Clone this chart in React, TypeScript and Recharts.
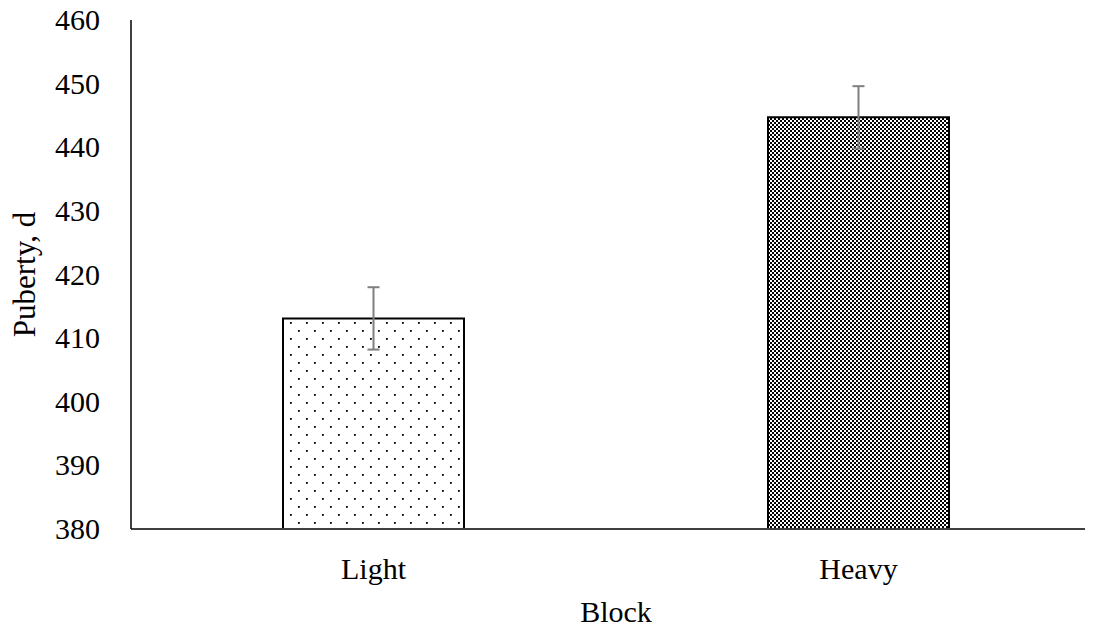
import { Bar, BarChart, Cell, ErrorBar, Label, XAxis, YAxis } from "recharts";

const blocks = ["Light", "Heavy"];
const puberty = [413.1, 444.7];
const errors = [4.9, 4.9];
const yTicks = [380, 390, 400, 410, 420, 430, 440, 450, 460];

const data = blocks.map((block, i) => ({
  block,
  value: puberty[i],
  err: errors[i],
}));

const fills = ["url(#dots)", "url(#checker)"];
const font = "'Liberation Serif', 'Times New Roman', serif";
const textStyle = { fill: "#000", fontSize: 30, fontFamily: font };

const XTick = (props: any) => {
  const { x, y, payload } = props;
  return (
    <text x={x} y={y + 48} textAnchor="middle" style={textStyle}>
      {payload.value}
    </text>
  );
};

const YTick = (props: any) => {
  const { x, y, payload } = props;
  return (
    <text x={x - 29} y={y + 10} textAnchor="end" style={textStyle}>
      {payload.value}
    </text>
  );
};

export default function App() {
  return (
    <div style={{ margin: -8, width: 1110, height: 630, fontFamily: font }}>
      <style>{`html, body { overflow: hidden; }`}</style>
      <BarChart
        width={1110}
        height={630}
        data={data}
        margin={{ top: 20, right: 9, bottom: 0, left: 0 }}
        barCategoryGap={152}
        style={{ fontFamily: font }}
      >
        <defs>
          <pattern id="dots" width={16} height={16} patternUnits="userSpaceOnUse">
            <rect width={16} height={16} fill="#fff" />
            <rect x={2} y={2} width={1.8} height={1.8} fill="#000" />
            <rect x={10} y={10} width={1.8} height={1.8} fill="#000" />
          </pattern>
          <pattern id="checker" width={4} height={4} patternUnits="userSpaceOnUse">
            <rect width={4} height={4} fill="#fff" />
            <rect x={0} y={0} width={2} height={2} fill="#000" />
            <rect x={2} y={2} width={2} height={2} fill="#000" />
          </pattern>
        </defs>
        <XAxis
          dataKey="block"
          height={101}
          tickLine={false}
          tickSize={0}
          axisLine={{ stroke: "#404040", strokeWidth: 2 }}
          tick={<XTick />}
        >
          <Label value="Block" position="insideBottom" offset={8} style={textStyle} />
        </XAxis>
        <YAxis
          width={131}
          domain={[380, 460]}
          ticks={yTicks}
          interval={0}
          allowDataOverflow
          tickLine={false}
          tickSize={0}
          axisLine={{ stroke: "#000", strokeWidth: 1.5 }}
          tick={<YTick />}
        >
          <Label
            value="Puberty, d"
            angle={-90}
            position="insideLeft"
            offset={24}
            style={{ ...textStyle, fontSize: 31, textAnchor: "middle" }}
          />
        </YAxis>
        <Bar dataKey="value" stroke="#000" strokeWidth={2} isAnimationActive={false}>
          {data.map((d, i) => (
            <Cell key={d.block} fill={fills[i]} />
          ))}
          <ErrorBar dataKey="err" width={6} stroke="#7f7f7f" strokeWidth={2} isAnimationActive={false} />
        </Bar>
      </BarChart>
    </div>
  );
}
